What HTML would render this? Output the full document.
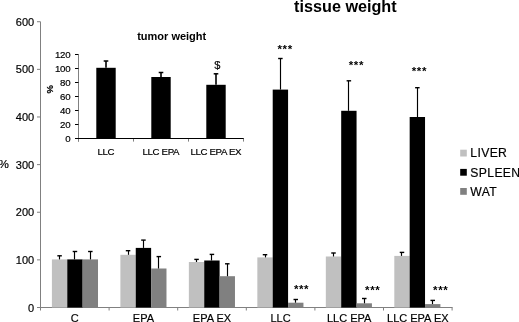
<!DOCTYPE html>
<html><head><meta charset="utf-8"><style>
html,body{margin:0;padding:0;background:#fff;}
body{width:519px;height:322px;overflow:hidden;}
svg{display:block;}
text{font-family:"Liberation Sans",Arial,sans-serif;fill:#000;stroke:#000;stroke-width:0.18px;}
.ti,.iti,.st{stroke-width:0;}
.yl{font-size:11px;text-anchor:end;}
.xl{font-size:11px;text-anchor:middle;}
.st{font-size:11.5px;font-weight:bold;letter-spacing:0.6px;}
.pc{font-size:10.6px;}
.ti{font-size:16.2px;font-weight:bold;}
.lg{font-size:12.2px;letter-spacing:0.35px;}
.iyl{font-size:9.7px;letter-spacing:-0.3px;text-anchor:end;}
.ixl{font-size:9.7px;letter-spacing:-0.35px;text-anchor:middle;}
.iti{font-size:11px;font-weight:bold;text-anchor:middle;}
.dol{font-size:11px;text-anchor:middle;}
.ipc{font-size:9.5px;font-weight:bold;text-anchor:middle;}
</style></head><body>
<svg width="519" height="322" viewBox="0 0 519 322">
<rect width="519" height="322" fill="#fff"/>
<line x1="40.5" y1="21.72" x2="40.5" y2="307.5" stroke="#808080" stroke-width="1"/>
<line x1="37" y1="307.5" x2="40.5" y2="307.5" stroke="#808080" stroke-width="1"/>
<text x="34.2" y="311.6" class="yl">0</text>
<line x1="37" y1="259.87" x2="40.5" y2="259.87" stroke="#808080" stroke-width="1"/>
<text x="34.2" y="263.97" class="yl">100</text>
<line x1="37" y1="212.24" x2="40.5" y2="212.24" stroke="#808080" stroke-width="1"/>
<text x="34.2" y="216.34" class="yl">200</text>
<line x1="37" y1="164.61" x2="40.5" y2="164.61" stroke="#808080" stroke-width="1"/>
<text x="34.2" y="168.71" class="yl">300</text>
<line x1="37" y1="116.98" x2="40.5" y2="116.98" stroke="#808080" stroke-width="1"/>
<text x="34.2" y="121.08" class="yl">400</text>
<line x1="37" y1="69.35" x2="40.5" y2="69.35" stroke="#808080" stroke-width="1"/>
<text x="34.2" y="73.45" class="yl">500</text>
<line x1="37" y1="21.72" x2="40.5" y2="21.72" stroke="#808080" stroke-width="1"/>
<text x="34.2" y="25.82" class="yl">600</text>
<line x1="40" y1="307.5" x2="452.6" y2="307.5" stroke="#808080" stroke-width="1"/>
<line x1="40.5" y1="307.5" x2="40.5" y2="310.5" stroke="#808080" stroke-width="1"/>
<line x1="109.1" y1="307.5" x2="109.1" y2="310.5" stroke="#808080" stroke-width="1"/>
<line x1="177.7" y1="307.5" x2="177.7" y2="310.5" stroke="#808080" stroke-width="1"/>
<line x1="246.3" y1="307.5" x2="246.3" y2="310.5" stroke="#808080" stroke-width="1"/>
<line x1="314.9" y1="307.5" x2="314.9" y2="310.5" stroke="#808080" stroke-width="1"/>
<line x1="383.5" y1="307.5" x2="383.5" y2="310.5" stroke="#808080" stroke-width="1"/>
<line x1="452.1" y1="307.5" x2="452.1" y2="310.5" stroke="#808080" stroke-width="1"/>
<text x="74.8" y="321.7" class="xl">C</text>
<text x="143.4" y="321.7" class="xl">EPA</text>
<text x="212" y="321.7" class="xl">EPA EX</text>
<text x="280.6" y="321.7" class="xl">LLC</text>
<text x="349.2" y="321.7" class="xl">LLC EPA</text>
<text x="417.8" y="321.7" class="xl">LLC EPA EX</text>
<rect x="51.9" y="259.4" width="15.37" height="48.1" fill="#c0c0c0"/><rect x="67.27" y="259.4" width="15.37" height="48.1" fill="#000000"/><rect x="82.64" y="259.4" width="15.37" height="48.1" fill="#808080"/><rect x="120.38" y="254.8" width="15.37" height="52.7" fill="#c0c0c0"/><rect x="135.75" y="247.9" width="15.37" height="59.6" fill="#000000"/><rect x="151.12" y="268.5" width="15.37" height="39" fill="#808080"/><rect x="188.86" y="262" width="15.37" height="45.5" fill="#c0c0c0"/><rect x="204.23" y="260.5" width="15.37" height="47" fill="#000000"/><rect x="219.6" y="276.2" width="15.37" height="31.3" fill="#808080"/><rect x="257.34" y="257.4" width="15.37" height="50.1" fill="#c0c0c0"/><rect x="272.71" y="89.6" width="15.37" height="217.9" fill="#000000"/><rect x="288.08" y="302.7" width="15.37" height="4.8" fill="#808080"/><rect x="325.82" y="256.5" width="15.37" height="51" fill="#c0c0c0"/><rect x="341.19" y="110.8" width="15.37" height="196.7" fill="#000000"/><rect x="356.56" y="303.3" width="15.37" height="4.2" fill="#808080"/><rect x="394.3" y="255.9" width="15.37" height="51.6" fill="#c0c0c0"/><rect x="409.67" y="117" width="15.37" height="190.5" fill="#000000"/><rect x="425.04" y="304.1" width="15.37" height="3.4" fill="#808080"/>
<line x1="59.5" y1="255.8" x2="59.5" y2="259.4" stroke="#000" stroke-width="1.15"/><line x1="57.34" y1="255.8" x2="61.84" y2="255.8" stroke="#000" stroke-width="1.4"/><line x1="74.5" y1="251.5" x2="74.5" y2="259.4" stroke="#000" stroke-width="1.15"/><line x1="72.7" y1="251.5" x2="77.2" y2="251.5" stroke="#000" stroke-width="1.4"/><line x1="90.5" y1="251.5" x2="90.5" y2="259.4" stroke="#000" stroke-width="1.15"/><line x1="88.08" y1="251.5" x2="92.58" y2="251.5" stroke="#000" stroke-width="1.4"/><line x1="128.5" y1="250.7" x2="128.5" y2="254.8" stroke="#000" stroke-width="1.15"/><line x1="125.81" y1="250.7" x2="130.31" y2="250.7" stroke="#000" stroke-width="1.4"/><line x1="143.5" y1="240.1" x2="143.5" y2="247.9" stroke="#000" stroke-width="1.15"/><line x1="141.19" y1="240.1" x2="145.69" y2="240.1" stroke="#000" stroke-width="1.4"/><line x1="158.5" y1="256.6" x2="158.5" y2="268.5" stroke="#000" stroke-width="1.15"/><line x1="156.56" y1="256.6" x2="161.06" y2="256.6" stroke="#000" stroke-width="1.4"/><line x1="196.5" y1="259.4" x2="196.5" y2="262" stroke="#000" stroke-width="1.15"/><line x1="194.3" y1="259.4" x2="198.8" y2="259.4" stroke="#000" stroke-width="1.4"/><line x1="211.5" y1="254.4" x2="211.5" y2="260.5" stroke="#000" stroke-width="1.15"/><line x1="209.67" y1="254.4" x2="214.17" y2="254.4" stroke="#000" stroke-width="1.4"/><line x1="227.5" y1="263.8" x2="227.5" y2="276.2" stroke="#000" stroke-width="1.15"/><line x1="225.04" y1="263.8" x2="229.54" y2="263.8" stroke="#000" stroke-width="1.4"/><line x1="265.5" y1="254.7" x2="265.5" y2="257.4" stroke="#000" stroke-width="1.15"/><line x1="262.77" y1="254.7" x2="267.27" y2="254.7" stroke="#000" stroke-width="1.4"/><line x1="280.5" y1="58.5" x2="280.5" y2="89.6" stroke="#000" stroke-width="1.15"/><line x1="278.14" y1="58.5" x2="282.64" y2="58.5" stroke="#000" stroke-width="1.4"/><line x1="295.5" y1="299.5" x2="295.5" y2="302.7" stroke="#000" stroke-width="1.15"/><line x1="293.51" y1="299.5" x2="298.01" y2="299.5" stroke="#000" stroke-width="1.4"/><line x1="333.5" y1="253" x2="333.5" y2="256.5" stroke="#000" stroke-width="1.15"/><line x1="331.25" y1="253" x2="335.75" y2="253" stroke="#000" stroke-width="1.4"/><line x1="348.5" y1="80.8" x2="348.5" y2="110.8" stroke="#000" stroke-width="1.15"/><line x1="346.62" y1="80.8" x2="351.12" y2="80.8" stroke="#000" stroke-width="1.4"/><line x1="364.5" y1="298.5" x2="364.5" y2="303.3" stroke="#000" stroke-width="1.15"/><line x1="362" y1="298.5" x2="366.5" y2="298.5" stroke="#000" stroke-width="1.4"/><line x1="401.5" y1="252.4" x2="401.5" y2="255.9" stroke="#000" stroke-width="1.15"/><line x1="399.74" y1="252.4" x2="404.24" y2="252.4" stroke="#000" stroke-width="1.4"/><line x1="417.5" y1="87.7" x2="417.5" y2="117" stroke="#000" stroke-width="1.15"/><line x1="415.11" y1="87.7" x2="419.61" y2="87.7" stroke="#000" stroke-width="1.4"/><line x1="432.5" y1="300.4" x2="432.5" y2="304.1" stroke="#000" stroke-width="1.15"/><line x1="430.48" y1="300.4" x2="434.98" y2="300.4" stroke="#000" stroke-width="1.4"/>
<text x="277.5" y="53.4" class="st">***</text>
<text x="293.9" y="293.2" class="st">***</text>
<text x="348.8" y="69.3" class="st">***</text>
<text x="365.1" y="294" class="st">***</text>
<text x="411.8" y="75.3" class="st">***</text>
<text x="433.1" y="294" class="st">***</text>
<text transform="translate(-1.4 167.9) scale(1.1 1)" class="pc">%</text>
<text x="294.1" y="11.6" class="ti">tissue weight</text>
<rect x="460.2" y="149.7" width="6.6" height="6.8" fill="#c0c0c0"/>
<text x="470.3" y="157.4" class="lg">LIVER</text>
<rect x="460.2" y="168.9" width="6.6" height="6.8" fill="#000000"/>
<text x="470.3" y="176.6" class="lg">SPLEEN</text>
<rect x="460.2" y="188" width="6.6" height="6.8" fill="#808080"/>
<text x="470.3" y="195.7" class="lg">WAT</text>
<line x1="78.5" y1="54.5" x2="78.5" y2="141.6" stroke="#808080" stroke-width="1"/>
<line x1="75" y1="138.5" x2="78.5" y2="138.5" stroke="#000" stroke-width="1"/>
<text x="70.3" y="141.6" class="iyl">0</text>
<line x1="75" y1="124.5" x2="78.5" y2="124.5" stroke="#000" stroke-width="1"/>
<text x="70.3" y="127.6" class="iyl">20</text>
<line x1="75" y1="110.5" x2="78.5" y2="110.5" stroke="#000" stroke-width="1"/>
<text x="70.3" y="113.6" class="iyl">40</text>
<line x1="75" y1="96.5" x2="78.5" y2="96.5" stroke="#000" stroke-width="1"/>
<text x="70.3" y="99.6" class="iyl">60</text>
<line x1="75" y1="82.5" x2="78.5" y2="82.5" stroke="#000" stroke-width="1"/>
<text x="70.3" y="85.6" class="iyl">80</text>
<line x1="75" y1="68.5" x2="78.5" y2="68.5" stroke="#000" stroke-width="1"/>
<text x="70.3" y="71.6" class="iyl">100</text>
<line x1="75" y1="54.5" x2="78.5" y2="54.5" stroke="#000" stroke-width="1"/>
<text x="70.3" y="57.6" class="iyl">120</text>
<line x1="75" y1="138.5" x2="243.8" y2="138.5" stroke="#000" stroke-width="1.1"/>
<line x1="78.5" y1="139" x2="78.5" y2="141.6" stroke="#808080" stroke-width="1"/>
<line x1="133.5" y1="139" x2="133.5" y2="141.6" stroke="#808080" stroke-width="1"/>
<line x1="188.5" y1="139" x2="188.5" y2="141.6" stroke="#808080" stroke-width="1"/>
<line x1="243.5" y1="139" x2="243.5" y2="141.6" stroke="#808080" stroke-width="1"/>
<rect x="96.3" y="67.8" width="19.4" height="70.7" fill="#000"/>
<line x1="106" y1="61" x2="106" y2="67.8" stroke="#000" stroke-width="1.6"/>
<line x1="103.7" y1="61" x2="108.3" y2="61" stroke="#000" stroke-width="1.5"/>
<text x="105.8" y="155.4" class="ixl">LLC</text>
<rect x="151.3" y="77" width="19.4" height="61.5" fill="#000"/>
<line x1="161" y1="72.5" x2="161" y2="77" stroke="#000" stroke-width="1.6"/>
<line x1="158.7" y1="72.5" x2="163.3" y2="72.5" stroke="#000" stroke-width="1.5"/>
<text x="160.8" y="155.4" class="ixl">LLC EPA</text>
<rect x="206.3" y="84.8" width="19.4" height="53.7" fill="#000"/>
<line x1="216" y1="73.8" x2="216" y2="84.8" stroke="#000" stroke-width="1.6"/>
<line x1="213.7" y1="73.8" x2="218.3" y2="73.8" stroke="#000" stroke-width="1.5"/>
<text x="215.8" y="155.4" class="ixl">LLC EPA EX</text>
<text x="171.7" y="39.8" class="iti">tumor weight</text>
<text x="217.3" y="68.5" class="dol">$</text>
<text transform="translate(53.2 89.3) rotate(-90)" class="ipc">%</text>
</svg>
</body></html>
